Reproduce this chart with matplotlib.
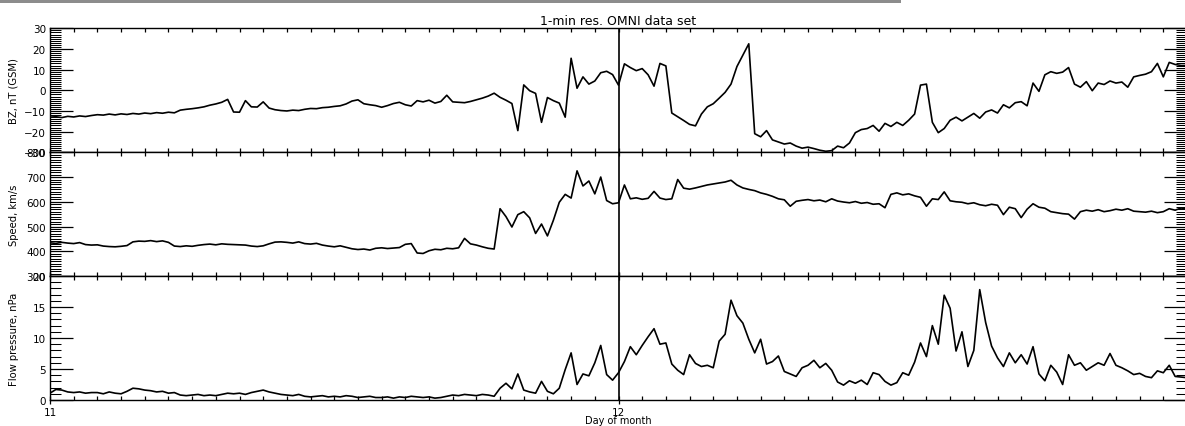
import numpy as np
import matplotlib.pyplot as plt
from matplotlib.ticker import FixedLocator, MultipleLocator, NullFormatter

# 15-minute samples, hours after 00 UT on day 11
HOURS = np.arange(0, 48.25, 0.25)

BZ_GSM = [
    -13.0, -12.8, -13.2, -12.6, -12.9, -12.4, -12.7, -12.2,
    -11.8, -12.0, -11.5, -11.9, -11.4, -11.7, -11.2, -11.5,
    -11.0, -11.3, -10.8, -11.1, -10.6, -10.9, -9.6, -9.2,
    -8.9, -8.5, -8.0, -7.2, -6.6, -5.8, -4.4, -10.5,
    -10.6, -5.0, -8.0, -8.1, -5.6, -8.6, -9.4, -9.8,
    -10.0, -9.6, -9.8, -9.2, -8.8, -8.9, -8.4, -8.2,
    -7.8, -7.5, -6.6, -5.2, -4.6, -6.5, -7.0, -7.4,
    -8.2, -7.4, -6.4, -5.8, -7.0, -7.6, -5.0, -5.6,
    -4.8, -6.2, -5.4, -2.4, -5.6, -5.8, -6.0, -5.4,
    -4.6, -3.8, -2.8, -1.4, -3.4, -4.8, -6.4, -19.5,
    2.6, -0.2, -1.5, -15.5, -3.5, -5.0, -6.2, -13.0,
    15.5, 1.0, 6.5, 3.0, 4.5, 8.5, 9.2, 7.6,
    2.5, 12.8, 11.0, 9.5, 10.5, 7.5, 2.0, 13.0,
    11.8, -11.0, -12.8, -14.6, -16.5, -17.2, -11.5, -8.0,
    -6.5, -3.8, -1.0, 3.0, 11.5, 17.0, 22.5, -21.0,
    -22.5, -19.5, -24.0, -25.0, -26.0, -25.5, -27.0, -28.0,
    -27.5, -28.2, -29.0, -29.5, -29.2, -27.0, -27.8, -25.5,
    -20.5, -19.0, -18.5, -17.0, -19.8, -16.0, -17.5, -15.5,
    -17.0, -14.5, -11.5, 2.5, 3.0, -15.5, -20.5, -18.5,
    -14.5, -13.0, -14.8, -13.0, -11.2, -13.5, -10.5, -9.5,
    -11.0, -7.0, -8.5, -6.0, -5.5, -7.5, 3.5, -0.5,
    7.5, 9.0, 8.2, 8.8, 11.0, 3.0, 1.5, 4.2,
    -0.2, 3.5, 2.8, 4.5, 3.5, 4.0, 1.5, 6.5,
    7.2, 7.8, 9.0, 13.0, 6.5, 13.5, 12.5, 12.0,
    12.0,
]

SPEED = [
    434, 432, 436, 433, 431, 435, 427, 425,
    426, 421, 419, 418, 420, 423, 438, 441,
    440, 443, 439, 442, 436, 421, 419, 422,
    420, 424, 427, 429, 426, 430, 428, 427,
    426, 425, 421, 419, 422, 430, 437, 438,
    436, 433, 438, 431, 429, 432, 425, 421,
    418, 422, 416, 410, 407, 409, 405, 412,
    414, 411, 413, 415, 428, 431, 393, 391,
    402, 408, 406, 412, 410, 414, 452, 430,
    425, 418, 412, 409, 572, 540, 498, 548,
    560, 535, 472, 510, 462, 525, 598, 630,
    615, 725, 664, 684, 632, 700, 605, 592,
    596, 668, 612, 616, 610, 614, 642, 615,
    609, 612, 690, 655, 651, 656, 662, 668,
    672, 676, 680, 687, 668, 656, 650, 645,
    636, 630, 622, 612, 608, 582, 602, 606,
    609, 604, 607, 600, 612, 603, 599, 596,
    601, 594, 597, 590, 592, 576, 630, 636,
    628, 632, 624, 618, 582, 612, 609, 640,
    604, 600, 598, 592, 596, 588, 584, 590,
    586, 548, 578, 572, 536, 570, 592, 578,
    574, 560, 556, 552, 550, 530, 560, 566,
    562, 568, 560, 564, 570, 566, 572, 562,
    560, 558, 562, 556, 560, 572, 566, 575,
    570,
]

PRESSURE = [
    1.1, 1.7, 1.6, 1.3, 1.2, 1.3, 1.1, 1.2,
    1.2, 1.0, 1.3, 1.1, 1.0, 1.4, 1.9, 1.8,
    1.6, 1.5, 1.3, 1.4, 1.1, 1.2, 0.8, 0.7,
    0.8, 0.9, 0.7, 0.8, 0.7, 0.9, 1.1, 1.0,
    1.1, 0.9, 1.2, 1.4, 1.6, 1.3, 1.1, 0.9,
    0.8, 0.7, 0.9, 0.6, 0.5, 0.6, 0.7, 0.5,
    0.6, 0.5, 0.7, 0.6, 0.4, 0.5, 0.6, 0.4,
    0.4, 0.5, 0.3, 0.5, 0.4, 0.6, 0.5, 0.4,
    0.5, 0.3, 0.4, 0.6, 0.8, 0.7, 0.9, 0.8,
    0.7, 0.9, 0.8, 0.6, 1.9, 2.7, 1.8, 4.2,
    1.6, 1.3, 1.1, 3.0, 1.4, 1.0, 1.9, 4.9,
    7.6, 2.5, 4.2, 3.9, 6.0, 8.8, 4.1, 3.2,
    4.4, 6.2, 8.6, 7.3, 8.8, 10.2, 11.5, 9.0,
    9.2, 5.8, 4.8, 4.1, 7.3, 5.9, 5.4, 5.6,
    5.2, 9.5, 10.6, 16.1, 13.6, 12.4, 9.8, 7.6,
    9.8, 5.8, 6.2, 7.1, 4.6, 4.2, 3.8, 5.2,
    5.6, 6.4, 5.2, 5.9, 4.8, 2.9, 2.4, 3.1,
    2.7, 3.2, 2.5, 4.4, 4.1, 3.0, 2.4, 2.8,
    4.4, 4.0, 6.1, 9.2, 7.0, 12.0, 9.0, 16.9,
    14.8, 7.9, 11.0, 5.4, 8.0, 17.8, 12.5, 8.7,
    6.8, 5.4, 7.6, 6.0, 7.3, 5.8, 8.6, 4.2,
    3.1, 5.6, 4.5, 2.5, 7.3, 5.6, 6.0, 4.8,
    5.4, 6.0, 5.6, 7.5, 5.6, 5.2, 4.7, 4.1,
    4.3, 3.8, 3.6, 4.7, 4.4, 5.6, 3.8, 3.7,
    3.6,
]

DAY_TICKS = [0, 24]
DAY_LABELS = ["11", "12"]

# (series, y-label, limits, major step, minor step)
PANELS = [
    (BZ_GSM, "BZ, nT (GSM)", (-30, 30), 10, 1),
    (SPEED, "Speed, km/s", (300, 800), 100, 10),
    (PRESSURE, "Flow pressure, nPa", (0, 20), 5, 1),
]

W, H = 1185, 427
LEFT, RIGHT = 50, 1187
ROWS = [(29.3, 153.3), (153.3, 277.0), (277.0, 401.0)]


def style_panel(ax, ylim, major, minor):
    ax.set_xlim(0, 48)
    ax.set_ylim(*ylim)
    ax.yaxis.set_major_locator(MultipleLocator(major))
    ax.yaxis.set_minor_locator(MultipleLocator(minor))
    ax.xaxis.set_major_locator(FixedLocator(DAY_TICKS))
    ax.xaxis.set_minor_locator(MultipleLocator(1))
    ax.tick_params(axis="y", which="major", direction="in", length=16.5, width=0.9,
                   left=True, right=True, labelsize=7.5, pad=3)
    ax.tick_params(axis="y", which="minor", direction="in", length=8, width=0.75,
                   left=True, right=True)
    ax.tick_params(axis="x", which="both", direction="in", length=3, width=0.9,
                   top=True, bottom=True, labelsize=7.5, pad=4)
    for side in ax.spines.values():
        side.set_linewidth(1.0)


def main():
    fig = plt.figure(figsize=(W / 100, H / 100), dpi=100)
    axes = []
    for (values, label, ylim, major, minor), (top, bottom) in zip(PANELS, ROWS):
        ax = fig.add_axes([LEFT / W, 1 - bottom / H, (RIGHT - LEFT) / W, (bottom - top) / H])
        ax.plot(HOURS, values, color="black", linewidth=1.2)
        ax.axvline(24, color="black", linewidth=1.2)
        style_panel(ax, ylim, major, minor)
        fig.text(14 / W, 1 - (top + bottom) / 2 / H, label, rotation=90,
                 ha="center", va="center", fontsize=7.2)
        axes.append(ax)

    for ax in axes[:-1]:
        ax.xaxis.set_major_formatter(NullFormatter())
    axes[-1].set_xticklabels(DAY_LABELS)
    # day-boundary ticks poke just below the bottom frame
    axes[-1].tick_params(axis="x", which="major", direction="inout", length=6, pad=2)
    fig.text((LEFT + RIGHT) / 2 / W, 1 - 421.5 / H, "Day of month",
             ha="center", va="center", fontsize=7)
    axes[0].set_title("1-min res. OMNI data set", fontsize=9, pad=3)

    # thin grey rule along the top edge
    fig.add_artist(plt.Rectangle((0, 1 - 4 / H), 0.76, 4 / H, transform=fig.transFigure,
                                 facecolor="#8c8c8c", linewidth=0))

    fig.savefig("out.png", dpi=100)


if __name__ == "__main__":
    main()
